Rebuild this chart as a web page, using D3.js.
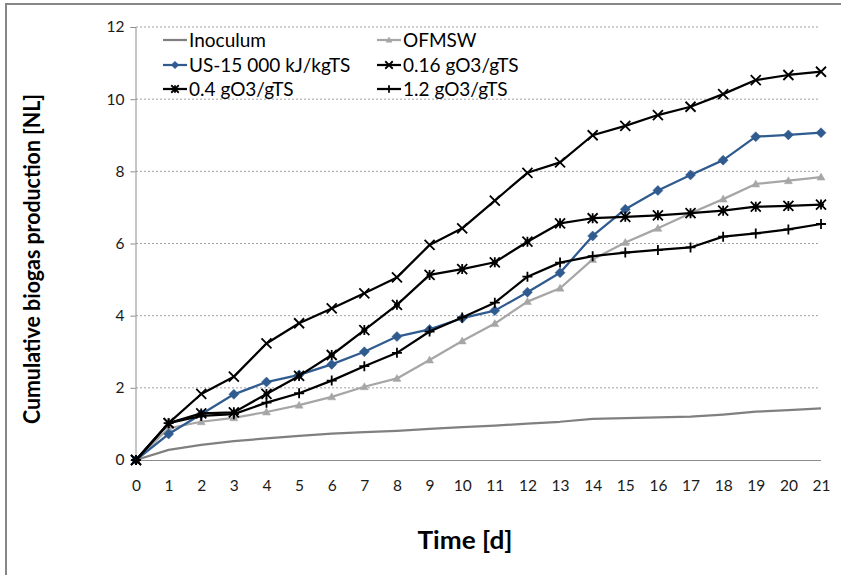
<!DOCTYPE html>
<html>
<head>
<meta charset="utf-8">
<script src="https://cdn.jsdelivr.net/npm/d3@7/dist/d3.min.js"></script>
<style>
  html, body { margin: 0; padding: 0; background: #fff; }
  svg { display: block; font-family: Lato, "Open Sans", sans-serif; }
</style>
</head>
<body>
<svg id="chart" width="841" height="575"></svg>
<script>
// ---- data ----
const days = [0,1,2,3,4,5,6,7,8,9,10,11,12,13,14,15,16,17,18,19,20,21];
const inoculum = [0,0.28,0.42,0.52,0.60,0.67,0.73,0.77,0.81,0.86,0.91,0.95,1.01,1.06,1.14,1.16,1.18,1.20,1.26,1.34,1.38,1.43];
const ofmsw    = [0,0.88,1.06,1.17,1.33,1.52,1.75,2.03,2.26,2.77,3.30,3.78,4.39,4.76,5.56,6.03,6.42,6.84,7.23,7.65,7.74,7.84];
const us15000  = [0,0.72,1.27,1.82,2.16,2.36,2.65,3.00,3.42,3.62,3.93,4.14,4.65,5.19,6.21,6.95,7.47,7.90,8.31,8.96,9.01,9.07];
const oz016    = [0,1.02,1.83,2.31,3.23,3.79,4.20,4.62,5.06,5.96,6.42,7.19,7.96,8.25,9.00,9.26,9.56,9.79,10.14,10.53,10.67,10.76];
const oz04     = [0,1.02,1.29,1.32,1.83,2.33,2.91,3.60,4.30,5.13,5.29,5.48,6.05,6.56,6.70,6.74,6.78,6.84,6.91,7.02,7.04,7.08];
const oz12     = [0,1.02,1.22,1.27,1.59,1.85,2.20,2.60,2.97,3.56,3.95,4.36,5.08,5.47,5.65,5.75,5.82,5.89,6.19,6.28,6.39,6.54];
const seriesNames = ["Inoculum","OFMSW","US-15 000 kJ/kgTS","0.16 gO3/gTS","0.4 gO3/gTS","1.2 gO3/gTS"];
const yTicks = [0,2,4,6,8,10,12];
const xLabel = "Time [d]";
const yLabel = "Cumulative biogas production [NL]";

// ---- styles ----
const styles = [
  {color:"#808080", marker:"none"},
  {color:"#a6a6a6", marker:"triangle"},
  {color:"#2f5b8f", marker:"diamond"},
  {color:"#000000", marker:"x"},
  {color:"#000000", marker:"star"},
  {color:"#000000", marker:"plus"}
];
const allSeries = [inoculum, ofmsw, us15000, oz016, oz04, oz12];

const svg = d3.select("#chart");

// frame
svg.append("rect").attr("x",6).attr("y",4).attr("width",850).attr("height",590)
  .attr("fill","none").attr("stroke","#878787").attr("stroke-width",2);

const x = d3.scaleLinear().domain([0,21]).range([136,821]);
const y = d3.scaleLinear().domain([0,12]).range([460,27]);

// gridlines
svg.append("g").selectAll("line").data(yTicks.filter(d=>d>0)).join("line")
  .attr("x1",136).attr("x2",820).attr("y1",d=>y(d)).attr("y2",d=>y(d))
  .attr("stroke","#a0a0a0").attr("stroke-width",1).attr("stroke-dasharray","2,2");

// y axis
const yAxis = d3.axisLeft(y).tickValues(yTicks).tickSize(5).tickPadding(6).tickFormat(d3.format("d"));
const gy = svg.append("g").attr("transform","translate(135.5,0)").call(yAxis);
gy.select(".domain").attr("stroke","#8c8c8c").attr("stroke-width",1);
gy.selectAll(".tick line").attr("stroke","#8c8c8c");
gy.selectAll(".tick text").attr("font-size",15.5).attr("fill","#1a1a1a").attr("font-family","Lato, 'Open Sans', sans-serif");

// x axis
const xAxis = d3.axisBottom(x).tickValues(days).tickSize(0).tickPadding(19).tickFormat(d3.format("d"));
const gx = svg.append("g").attr("transform","translate(0,460.5)").call(xAxis);
gx.select(".domain").attr("stroke","#8c8c8c").attr("stroke-width",1).attr("d","M135.5,0H821");
gx.selectAll(".tick text").attr("font-size",15.5).attr("fill","#1a1a1a").attr("font-family","Lato, 'Open Sans', sans-serif");

// axis titles
svg.append("text").attr("x",465).attr("y",549).attr("text-anchor","middle")
  .attr("font-size",25).attr("font-weight","bold").attr("fill","#000")
  .attr("textLength",95).attr("lengthAdjust","spacingAndGlyphs").text(xLabel);
svg.append("text").attr("transform","translate(40,259) rotate(-90)").attr("text-anchor","middle")
  .attr("font-size",23).attr("font-weight","bold").attr("fill","#000")
  .attr("textLength",330).attr("lengthAdjust","spacingAndGlyphs").text(yLabel);

// markers
function markerPath(type, s){
  const p = d3.path();
  if(type==="diamond"){ p.moveTo(0,-s); p.lineTo(s,0); p.lineTo(0,s); p.lineTo(-s,0); p.closePath(); }
  else if(type==="triangle"){ p.moveTo(0,-s); p.lineTo(s,s*0.75); p.lineTo(-s,s*0.75); p.closePath(); }
  else if(type==="x"){ p.moveTo(-s,-s); p.lineTo(s,s); p.moveTo(s,-s); p.lineTo(-s,s); }
  else if(type==="star"){ p.moveTo(-s,-s); p.lineTo(s,s); p.moveTo(s,-s); p.lineTo(-s,s); p.moveTo(0,-s); p.lineTo(0,s); p.moveTo(-s*0.6,0); p.lineTo(s*0.6,0);}
  else if(type==="plus"){ p.moveTo(0,-s); p.lineTo(0,s); p.moveTo(-s,0); p.lineTo(s,0); }
  return p.toString();
}
function drawMarker(g, type, color, cx, cy, s){
  if(type==="none") return;
  const filled = (type==="diamond"||type==="triangle");
  g.append("path").attr("d", markerPath(type,s)).attr("transform",`translate(${cx},${cy})`)
    .attr("fill", filled?color:"none").attr("stroke",color).attr("stroke-width", filled?0.5:1.8);
}
const msize = {none:0, triangle:4, diamond:5, x:5, star:5, plus:5};

const line = d3.line().x((d,i)=>x(days[i])).y(d=>y(d));
allSeries.forEach((vals,k)=>{
  const st = styles[k];
  const g = svg.append("g");
  g.append("path").attr("d", line(vals)).attr("fill","none").attr("stroke",st.color)
    .attr("stroke-width",2.25).attr("stroke-linejoin","round");
  vals.forEach((v,i)=> drawMarker(g, st.marker, st.color, x(days[i]), y(v), msize[st.marker]));
});

// legend
const legPos = [[163,40],[377,40],[163,65],[377,65],[163,89],[377,89]];
seriesNames.forEach((name,k)=>{
  const st = styles[k];
  const [lx,ly] = legPos[k];
  const g = svg.append("g");
  g.append("line").attr("x1",lx).attr("x2",lx+24).attr("y1",ly).attr("y2",ly)
    .attr("stroke",st.color).attr("stroke-width",2.25);
  drawMarker(g, st.marker, st.color, lx+12, ly, msize[st.marker]*0.75);
  g.append("text").attr("x",lx+26).attr("y",ly+6.5).attr("font-size",19).attr("fill","#000").text(name);
});
</script>
</body>
</html>
